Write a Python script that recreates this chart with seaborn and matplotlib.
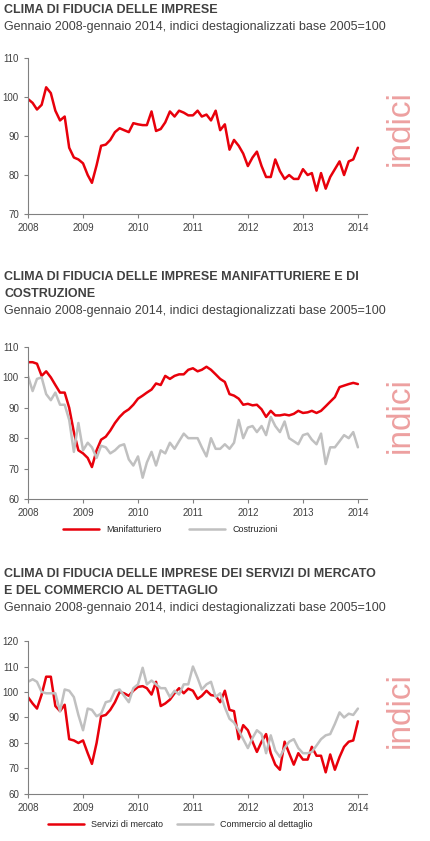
import matplotlib
matplotlib.use("Agg")
import matplotlib.pyplot as plt
import matplotlib.dates as mdates
import seaborn as sns
import pandas as pd

sns.set_style("white")
plt.rcParams['font.family'] = ['Liberation Sans', 'DejaVu Sans']

months = pd.date_range("2008-01-01", "2014-01-01", freq="MS")

imprese = [99.5, 98.5, 96.8, 98, 102.5, 101, 96.5, 94, 95, 87, 84.5, 84,
           83, 80, 78, 82.5, 87.5, 87.8, 89, 91, 92, 91.5, 91, 93.3,
           93, 92.8, 92.8, 96.3, 91.3, 91.8, 93.5, 96.3, 95, 96.5, 96, 95.3,
           95.3, 96.5, 95, 95.5, 94, 96.5, 91.5, 93, 86.5, 89, 87.5, 85.5,
           82.3, 84.5, 86, 82.3, 79.5, 79.5, 84, 81, 79, 80, 79, 79,
           81.5, 80, 80.5, 76, 80.5, 76.5, 79.5, 81.5, 83.5, 80, 83.5, 84,
           87]

manifatturiero = [105, 105, 104.5, 100.5, 102, 100, 97.5, 95, 95, 90, 82, 76,
                  75, 73.5, 70.5, 76, 79.5, 80.5, 82.5, 85, 87, 88.5, 89.5, 91,
                  93, 94, 95, 96, 98, 97.5, 100.5, 99.5, 100.5, 101, 101, 102.5,
                  103, 102, 102.5, 103.5, 102.5, 101, 99.5, 98.5, 94.5, 94, 93, 91,
                  91.3, 90.8, 91, 89.5, 87, 89, 87.5, 87.5, 87.8, 87.5, 88, 89,
                  88.3, 88.5, 89, 88.3, 89, 90.5, 92, 93.5, 96.8, 97.3, 97.8, 98.2,
                  97.8]

costruzioni = [100.5, 95.5, 99.5, 100, 94.5, 92.5, 95, 91, 91, 86, 75.5, 85,
               76, 78.5, 77, 73.5, 77.5, 77, 75, 76, 77.5, 78, 73, 71,
               74, 67, 72, 75.5, 71, 76, 75, 78.5, 76.5, 79, 81.5, 80,
               80, 80, 77, 74, 80, 76.5, 76.5, 78, 76.5, 78.5, 86, 80,
               83.5, 84, 82, 84, 81, 87, 84, 82, 85.5, 80, 79, 78,
               81, 81.5, 79.5, 78, 81.5, 71.5, 77, 77, 79, 81, 80, 82,
               77]

servizi = [98, 95.5, 93.5, 99, 106, 106, 94.5, 92.5, 95, 81.5, 81, 80,
           81, 76, 71.8, 80, 90.5, 91, 93, 96, 100, 99.5, 98.5, 100.5,
           102, 102.3, 101.5, 99, 104, 94.5, 95.5, 97, 99.5, 101.5, 99.5, 101.3,
           100.5, 97.3, 98.5, 100.5, 98.8, 98.5, 96, 100.5, 93, 92.5, 81.5, 87,
           85, 80.5, 76.5, 80.5, 83.5, 76, 71.5, 69.5, 80.5, 76, 71.5, 76,
           73.5, 73.5, 78.5, 75, 75, 68.5, 75.5, 69.5, 74.5, 78.5, 80.5, 75.5,
           81][:72] + [88.5]
servizi[71] = 81

commercio = [104, 105, 104, 100, 99.5, 99.5, 99.5, 92.5, 101, 100.5, 98, 91,
             85, 93.5, 93, 90.5, 91.5, 96, 96.5, 100.5, 101, 98.5, 96, 101.5,
             103, 109.5, 103, 104.5, 103, 101.5, 101.5, 98, 100.5, 99, 103, 103,
             110, 105.5, 101, 103, 104, 98, 99.5, 94, 89.5, 88, 85, 81.5,
             78, 82, 85, 83.5, 76, 83, 77, 74.5, 78, 80.5, 81.5, 78,
             76, 76, 76.5, 79, 81.5, 83, 83.5, 87.5, 92, 90, 91.5, 91,
             93.5]

RED = "#e8000b"
GREY = "#c0c0c0"
TXT = "#404040"

fig = plt.figure(figsize=(4.3, 8.41), dpi=100)


def style_axis(ax, ylim, step):
    ax.set_ylim(*ylim)
    ax.set_yticks(range(ylim[0], ylim[1] + 1, step))
    ax.set_xlim(pd.Timestamp("2008-01-01"), pd.Timestamp("2014-03-01"))
    ax.xaxis.set_major_locator(mdates.YearLocator())
    ax.xaxis.set_major_formatter(mdates.DateFormatter("%Y"))
    for s in ["top", "right"]:
        ax.spines[s].set_visible(False)
    for s in ["left", "bottom"]:
        ax.spines[s].set_color("#808080")
        ax.spines[s].set_linewidth(0.8)
    ax.tick_params(axis="both", labelsize=7, colors=TXT, length=3,
                   direction="out", color="#808080")
    ax.tick_params(left=True, bottom=True)
    ax.set_xlabel("")
    ax.set_ylabel("")
    ax.text(1.1, 0.55, "indici", transform=ax.transAxes, rotation=90,
            fontsize=24, color="#eda0a0", ha="center", va="center",
            fontweight="light")


def titles(lines, y0):
    y = y0
    for txt, bold in lines:
        fig.text(0.01, 1 - y / 841, txt, fontsize=9, color=TXT,
                 fontweight="bold" if bold else "normal", va="center")
        y += 17


sub = "Gennaio 2008-gennaio 2014, indici destagionalizzati base 2005=100"

# chart 1
titles([("CLIMA DI FIDUCIA DELLE IMPRESE", True), (sub, False)], 10)
ax1 = fig.add_axes([0.065, 0.7455, 0.788, 0.1855])
sns.lineplot(x=months, y=imprese, color=RED, lw=1.8, ax=ax1)
style_axis(ax1, (70, 110), 10)

# chart 2
titles([("CLIMA DI FIDUCIA DELLE IMPRESE MANIFATTURIERE E DI", True),
        ("COSTRUZIONE", True), (sub, False)], 277)
ax2 = fig.add_axes([0.065, 0.4067, 0.788, 0.1807])
df2 = pd.DataFrame({"Manifatturiero": manifatturiero,
                    "Costruzioni": costruzioni}, index=months)
sns.lineplot(data=df2, palette=[RED, GREY], dashes=False, lw=1.8, ax=ax2)
style_axis(ax2, (60, 110), 10)
ax2.legend(loc="upper center", bbox_to_anchor=(0.42, -0.12), ncol=2,
           frameon=False, fontsize=6.5, handlelength=4, columnspacing=3)

# chart 3
titles([("CLIMA DI FIDUCIA DELLE IMPRESE DEI SERVIZI DI MERCATO", True),
        ("E DEL COMMERCIO AL DETTAGLIO", True), (sub, False)], 574)
ax3 = fig.add_axes([0.065, 0.0559, 0.788, 0.1819])
df3 = pd.DataFrame({"Servizi di mercato": servizi,
                    "Commercio al dettaglio": commercio}, index=months)
sns.lineplot(data=df3, palette=[RED, GREY], dashes=False, lw=1.8, ax=ax3)
style_axis(ax3, (60, 120), 10)
ax3.legend(loc="upper center", bbox_to_anchor=(0.45, -0.12), ncol=2,
           frameon=False, fontsize=6.5, handlelength=4, columnspacing=1.5)

fig.savefig("out.png", dpi=100)
